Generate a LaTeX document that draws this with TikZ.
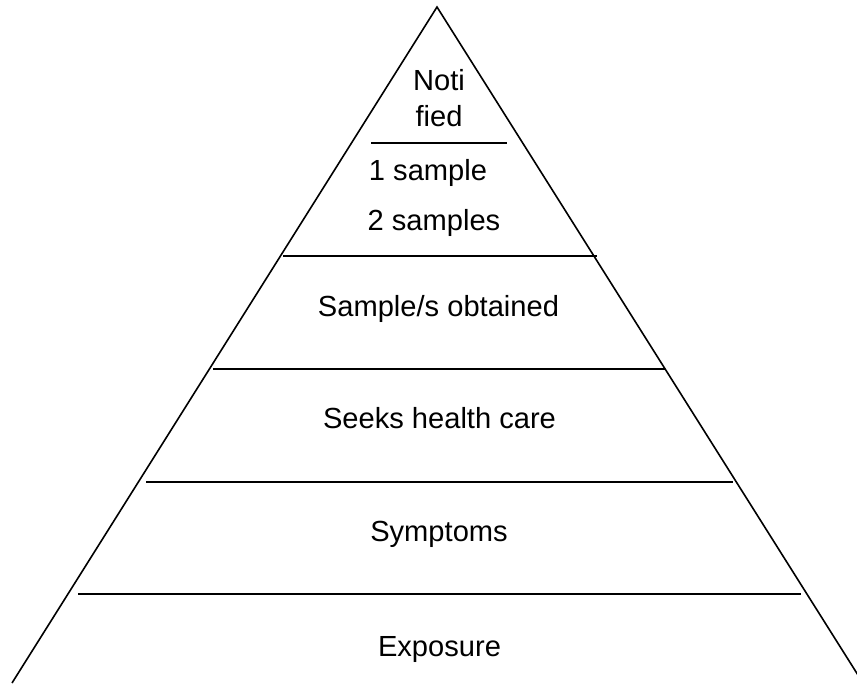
\documentclass[tikz,border=0pt]{standalone}
\usepackage{fontspec}
\setmainfont{Liberation Sans}
\begin{document}
\begin{tikzpicture}[x=1pt,y=-1pt,
  side/.style={line width=1.6pt,line join=miter},
  tier/.style={line width=1.8pt},
  lbl/.style={anchor=base,inner sep=0pt,font=\fontsize{29.1}{34}\selectfont}]
\useasboundingbox (0,0) rectangle (857,683);
\clip (0,0) rectangle (857,683);
\coordinate (apex) at (437,7);
\coordinate (bl) at (12,683);
\coordinate (br) at (863,683);
\draw[side] (bl) -- (apex) -- (br);
\coordinate (a1) at (371,143.3); \coordinate (b1) at (507,143.3);
\coordinate (a2) at (283,256);   \coordinate (b2) at (597,256);
\coordinate (a3) at (213,369);   \coordinate (b3) at (665,369);
\coordinate (a4) at (146,482);   \coordinate (b4) at (733,482);
\coordinate (a5) at (78,594);    \coordinate (b5) at (801,594);
\draw[tier] (a1) -- (b1);
\draw[tier] (a2) -- (b2);
\draw[tier] (a3) -- (b3);
\draw[tier] (a4) -- (b4);
\draw[tier] (a5) -- (b5);
\node[lbl] (noti) at (439,90) {Noti};
\node[lbl] (fied) at (439,126) {fied};
\node[lbl] (s1) at (428,180) {1 sample};
\node[lbl] (s2) at (434,230) {2 samples};
\node[lbl] (obt) at (438.5,316) {Sample/s obtained};
\node[lbl] (seek) at (439.5,428) {Seeks health care};
\node[lbl] (sym) at (439,541.7) {Symptoms};
\node[lbl] (exp) at (439.5,656) {Exposure};
\end{tikzpicture}
\end{document}
